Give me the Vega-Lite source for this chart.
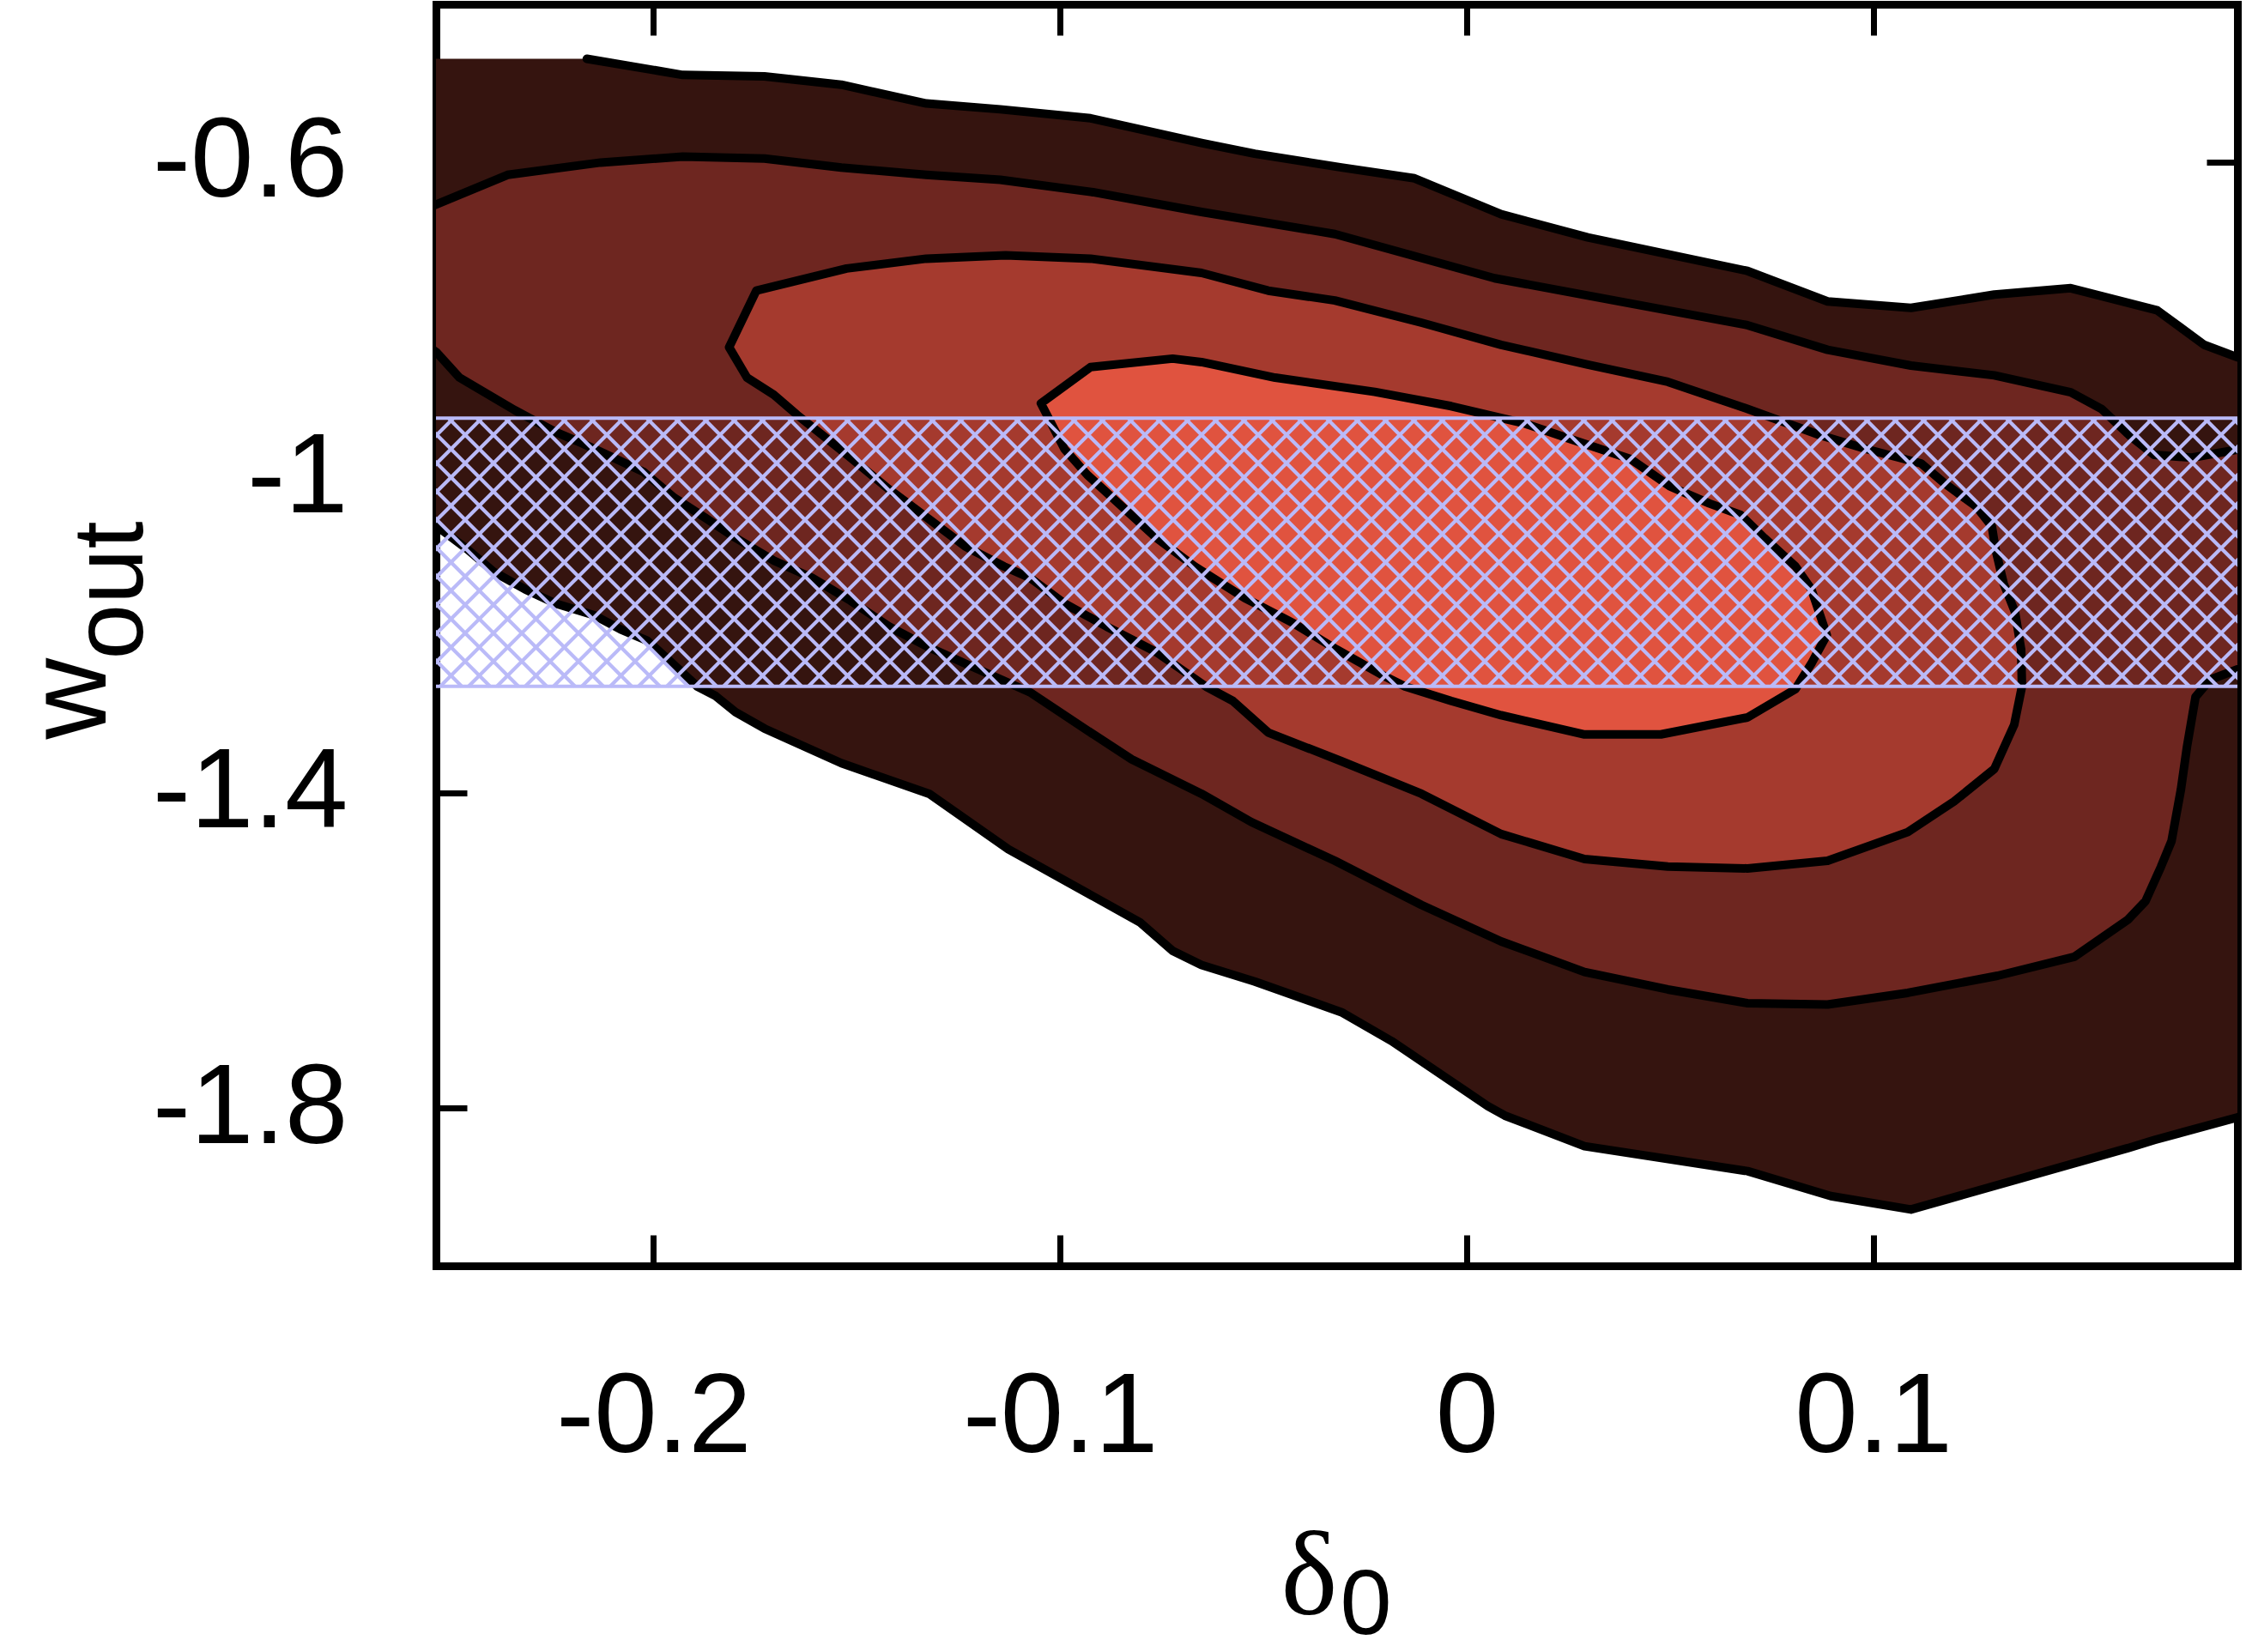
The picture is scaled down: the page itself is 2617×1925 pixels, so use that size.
{
"$schema":"https://vega.github.io/schema/vega-lite/v6.json",
"width":2099,"height":1470,
"autosize":{"type":"none"},
"padding":{"left":508,"top":5,"right":10,"bottom":450},
"background":"white",
"datasets":{
"contours":[
{"l":1,"i":0,"d":-0.262,"w":-0.4691},{"l":1,"i":1,"d":-0.2164,"w":-0.4691},{"l":1,"i":2,"d":-0.1928,"w":-0.4896},{"l":1,"i":3,"d":-0.1727,"w":-0.4914},{"l":1,"i":4,"d":-0.1538,"w":-0.502},{"l":1,"i":5,"d":-0.1329,"w":-0.5258},{"l":1,"i":6,"d":-0.1147,"w":-0.5332},{"l":1,"i":7,"d":-0.0925,"w":-0.5445},{"l":1,"i":8,"d":-0.0652,"w":-0.5758},{"l":1,"i":9,"d":-0.0521,"w":-0.5895},{"l":1,"i":10,"d":-0.0308,"w":-0.607},{"l":1,"i":11,"d":-0.0128,"w":-0.6207},{"l":1,"i":12,"d":0.0085,"w":-0.6663},{"l":1,"i":13,"d":0.0298,"w":-0.6957},{"l":1,"i":14,"d":0.0691,"w":-0.7382},{"l":1,"i":15,"d":0.0888,"w":-0.7769},{"l":1,"i":16,"d":0.1093,"w":-0.7851},{"l":1,"i":17,"d":0.1298,"w":-0.7682},{"l":1,"i":18,"d":0.1486,"w":-0.7601},{"l":1,"i":19,"d":0.1699,"w":-0.7882},{"l":1,"i":20,"d":0.1814,"w":-0.8319},{"l":1,"i":21,"d":0.1896,"w":-0.8476},{"l":1,"i":22,"d":0.199,"w":-0.864},{"l":1,"i":23,"d":0.199,"w":-1.8},{"l":1,"i":24,"d":0.1896,"w":-1.8117},{"l":1,"i":25,"d":0.1691,"w":-1.8405},{"l":1,"i":26,"d":0.1626,"w":-1.8508},{"l":1,"i":27,"d":0.1093,"w":-1.9286},{"l":1,"i":28,"d":0.0896,"w":-1.9116},{"l":1,"i":29,"d":0.0691,"w":-1.8799},{"l":1,"i":30,"d":0.029,"w":-1.8483},{"l":1,"i":31,"d":0.0094,"w":-1.8095},{"l":1,"i":32,"d":0.0052,"w":-1.7973},{"l":1,"i":33,"d":-0.0185,"w":-1.7148},{"l":1,"i":34,"d":-0.0308,"w":-1.6783},{"l":1,"i":35,"d":-0.0521,"w":-1.6394},{"l":1,"i":36,"d":-0.0652,"w":-1.6185},{"l":1,"i":37,"d":-0.0723,"w":-1.6005},{"l":1,"i":38,"d":-0.0804,"w":-1.5641},{"l":1,"i":39,"d":-0.1127,"w":-1.4717},{"l":1,"i":40,"d":-0.1322,"w":-1.4013},{"l":1,"i":41,"d":-0.1538,"w":-1.3625},{"l":1,"i":42,"d":-0.1727,"w":-1.3186},{"l":1,"i":43,"d":-0.1798,"w":-1.2979},{"l":1,"i":44,"d":-0.1847,"w":-1.2773},{"l":1,"i":45,"d":-0.1892,"w":-1.2653},{"l":1,"i":46,"d":-0.1968,"w":-1.229},{"l":1,"i":47,"d":-0.2015,"w":-1.2073},{"l":1,"i":48,"d":-0.2081,"w":-1.1927},{"l":1,"i":49,"d":-0.2147,"w":-1.1746},{"l":1,"i":50,"d":-0.2241,"w":-1.16},{"l":1,"i":51,"d":-0.2316,"w":-1.142},{"l":1,"i":52,"d":-0.2392,"w":-1.1202},{"l":1,"i":53,"d":-0.2458,"w":-1.0911},{"l":1,"i":54,"d":-0.2533,"w":-1.0621},{"l":1,"i":55,"d":-0.2615,"w":-1.0313},
{"l":2,"i":0,"d":-0.2615,"w":-0.6721},{"l":2,"i":1,"d":-0.2534,"w":-0.6538},{"l":2,"i":2,"d":-0.2359,"w":-0.6164},{"l":2,"i":3,"d":-0.213,"w":-0.6007},{"l":2,"i":4,"d":-0.1928,"w":-0.5932},{"l":2,"i":5,"d":-0.1727,"w":-0.5957},{"l":2,"i":6,"d":-0.1538,"w":-0.607},{"l":2,"i":7,"d":-0.1329,"w":-0.6164},{"l":2,"i":8,"d":-0.1147,"w":-0.6226},{"l":2,"i":9,"d":-0.0919,"w":-0.6383},{"l":2,"i":10,"d":-0.0652,"w":-0.6634},{"l":2,"i":11,"d":-0.0324,"w":-0.6914},{"l":2,"i":12,"d":0.0069,"w":-0.7475},{"l":2,"i":13,"d":0.0298,"w":-0.7694},{"l":2,"i":14,"d":0.0691,"w":-0.807},{"l":2,"i":15,"d":0.0888,"w":-0.8382},{"l":2,"i":16,"d":0.1093,"w":-0.8582},{"l":2,"i":17,"d":0.1298,"w":-0.8706},{"l":2,"i":18,"d":0.1486,"w":-0.892},{"l":2,"i":19,"d":0.1562,"w":-0.9134},{"l":2,"i":20,"d":0.1629,"w":-0.9461},{"l":2,"i":21,"d":0.1691,"w":-0.9714},{"l":2,"i":22,"d":0.1784,"w":-0.975},{"l":2,"i":23,"d":0.1896,"w":-0.9649},{"l":2,"i":24,"d":0.199,"w":-0.962},{"l":2,"i":25,"d":0.199,"w":-1.238},{"l":2,"i":26,"d":0.1896,"w":-1.2435},{"l":2,"i":27,"d":0.1829,"w":-1.2566},{"l":2,"i":28,"d":0.1793,"w":-1.2783},{"l":2,"i":29,"d":0.1772,"w":-1.3415},{"l":2,"i":30,"d":0.1757,"w":-1.3959},{"l":2,"i":31,"d":0.1734,"w":-1.4612},{"l":2,"i":32,"d":0.1708,"w":-1.4938},{"l":2,"i":33,"d":0.167,"w":-1.5374},{"l":2,"i":34,"d":0.1626,"w":-1.5613},{"l":2,"i":35,"d":0.1495,"w":-1.6081},{"l":2,"i":36,"d":0.1306,"w":-1.6321},{"l":2,"i":37,"d":0.1085,"w":-1.6538},{"l":2,"i":38,"d":0.0888,"w":-1.6685},{"l":2,"i":39,"d":0.0691,"w":-1.6669},{"l":2,"i":40,"d":0.0495,"w":-1.6495},{"l":2,"i":41,"d":0.029,"w":-1.6273},{"l":2,"i":42,"d":0.0085,"w":-1.5885},{"l":2,"i":43,"d":-0.0111,"w":-1.5423},{"l":2,"i":44,"d":-0.0324,"w":-1.4863},{"l":2,"i":45,"d":-0.0529,"w":-1.4373},{"l":2,"i":46,"d":-0.0652,"w":-1.4013},{"l":2,"i":47,"d":-0.0824,"w":-1.3576},{"l":2,"i":48,"d":-0.0925,"w":-1.3236},{"l":2,"i":49,"d":-0.1074,"w":-1.2726},{"l":2,"i":50,"d":-0.1138,"w":-1.258},{"l":2,"i":51,"d":-0.1233,"w":-1.2362},{"l":2,"i":52,"d":-0.1327,"w":-1.2145},{"l":2,"i":53,"d":-0.1421,"w":-1.1891},{"l":2,"i":54,"d":-0.1515,"w":-1.1565},{"l":2,"i":55,"d":-0.161,"w":-1.1274},{"l":2,"i":56,"d":-0.1704,"w":-1.1056},{"l":2,"i":57,"d":-0.1798,"w":-1.0767},{"l":2,"i":58,"d":-0.1873,"w":-1.0512},{"l":2,"i":59,"d":-0.1949,"w":-1.0258},{"l":2,"i":60,"d":-0.2024,"w":-0.9932},{"l":2,"i":61,"d":-0.2099,"w":-0.975},{"l":2,"i":62,"d":-0.2175,"w":-0.9569},{"l":2,"i":63,"d":-0.2241,"w":-0.9424},{"l":2,"i":64,"d":-0.2341,"w":-0.9148},{"l":2,"i":65,"d":-0.2477,"w":-0.8735},{"l":2,"i":66,"d":-0.2534,"w":-0.8412},{"l":2,"i":67,"d":-0.2615,"w":-0.8136},
{"l":3,"i":0,"d":-0.1814,"w":-0.835},{"l":3,"i":1,"d":-0.1747,"w":-0.7632},{"l":3,"i":2,"d":-0.1525,"w":-0.7351},{"l":3,"i":3,"d":-0.1329,"w":-0.7226},{"l":3,"i":4,"d":-0.1134,"w":-0.7183},{"l":3,"i":5,"d":-0.0925,"w":-0.7226},{"l":3,"i":6,"d":-0.0652,"w":-0.7407},{"l":3,"i":7,"d":-0.0488,"w":-0.7632},{"l":3,"i":8,"d":-0.0324,"w":-0.7757},{"l":3,"i":9,"d":-0.0111,"w":-0.8038},{"l":3,"i":10,"d":0.0085,"w":-0.8319},{"l":3,"i":11,"d":0.0298,"w":-0.8569},{"l":3,"i":12,"d":0.0495,"w":-0.8788},{"l":3,"i":13,"d":0.0691,"w":-0.9132},{"l":3,"i":14,"d":0.0867,"w":-0.9461},{"l":3,"i":15,"d":0.0983,"w":-0.9641},{"l":3,"i":16,"d":0.1118,"w":-0.9823},{"l":3,"i":17,"d":0.1176,"w":-1.0077},{"l":3,"i":18,"d":0.1253,"w":-1.0367},{"l":3,"i":19,"d":0.1292,"w":-1.0621},{"l":3,"i":20,"d":0.1301,"w":-1.0911},{"l":3,"i":21,"d":0.1321,"w":-1.1347},{"l":3,"i":22,"d":0.1349,"w":-1.1709},{"l":3,"i":23,"d":0.1364,"w":-1.2182},{"l":3,"i":24,"d":0.1366,"w":-1.2653},{"l":3,"i":25,"d":0.1347,"w":-1.3138},{"l":3,"i":26,"d":0.1298,"w":-1.3698},{"l":3,"i":27,"d":0.1199,"w":-1.411},{"l":3,"i":28,"d":0.1085,"w":-1.4499},{"l":3,"i":29,"d":0.0888,"w":-1.4863},{"l":3,"i":30,"d":0.0691,"w":-1.496},{"l":3,"i":31,"d":0.0495,"w":-1.4936},{"l":3,"i":32,"d":0.029,"w":-1.484},{"l":3,"i":33,"d":0.0085,"w":-1.4524},{"l":3,"i":34,"d":-0.0111,"w":-1.4013},{"l":3,"i":35,"d":-0.0308,"w":-1.36},{"l":3,"i":36,"d":-0.0488,"w":-1.3236},{"l":3,"i":37,"d":-0.0575,"w":-1.2835},{"l":3,"i":38,"d":-0.0641,"w":-1.2653},{"l":3,"i":39,"d":-0.0763,"w":-1.2217},{"l":3,"i":40,"d":-0.0886,"w":-1.1891},{"l":3,"i":41,"d":-0.0989,"w":-1.16},{"l":3,"i":42,"d":-0.1074,"w":-1.1274},{"l":3,"i":43,"d":-0.1138,"w":-1.1129},{"l":3,"i":44,"d":-0.1233,"w":-1.0876},{"l":3,"i":45,"d":-0.1327,"w":-1.0512},{"l":3,"i":46,"d":-0.1421,"w":-1.015},{"l":3,"i":47,"d":-0.1515,"w":-0.975},{"l":3,"i":48,"d":-0.1647,"w":-0.9206},{"l":3,"i":49,"d":-0.1704,"w":-0.8952},{"l":3,"i":50,"d":-0.177,"w":-0.8735},
{"l":4,"i":0,"d":-0.1047,"w":-0.9061},{"l":4,"i":1,"d":-0.0925,"w":-0.8601},{"l":4,"i":2,"d":-0.0723,"w":-0.8494},{"l":4,"i":3,"d":-0.0652,"w":-0.8538},{"l":4,"i":4,"d":-0.0471,"w":-0.8735},{"l":4,"i":5,"d":-0.0226,"w":-0.8916},{"l":4,"i":6,"d":-0.0038,"w":-0.9097},{"l":4,"i":7,"d":0.0142,"w":-0.9315},{"l":4,"i":8,"d":0.0245,"w":-0.9496},{"l":4,"i":9,"d":0.0404,"w":-0.9769},{"l":4,"i":10,"d":0.05,"w":-1.0114},{"l":4,"i":11,"d":0.0597,"w":-1.0331},{"l":4,"i":12,"d":0.0674,"w":-1.0476},{"l":4,"i":13,"d":0.0732,"w":-1.0767},{"l":4,"i":14,"d":0.0809,"w":-1.1129},{"l":4,"i":15,"d":0.0848,"w":-1.142},{"l":4,"i":16,"d":0.0867,"w":-1.1709},{"l":4,"i":17,"d":0.0886,"w":-1.2},{"l":4,"i":18,"d":0.0848,"w":-1.2362},{"l":4,"i":19,"d":0.0809,"w":-1.2685},{"l":4,"i":20,"d":0.0691,"w":-1.3045},{"l":4,"i":21,"d":0.0478,"w":-1.326},{"l":4,"i":22,"d":0.029,"w":-1.326},{"l":4,"i":23,"d":0.0085,"w":-1.3017},{"l":4,"i":24,"d":-0.0038,"w":-1.2835},{"l":4,"i":25,"d":-0.0151,"w":-1.2653},{"l":4,"i":26,"d":-0.0207,"w":-1.2508},{"l":4,"i":27,"d":-0.032,"w":-1.2182},{"l":4,"i":28,"d":-0.0424,"w":-1.1855},{"l":4,"i":29,"d":-0.0546,"w":-1.1529},{"l":4,"i":30,"d":-0.0669,"w":-1.1129},{"l":4,"i":31,"d":-0.0763,"w":-1.0767},{"l":4,"i":32,"d":-0.0848,"w":-1.0367},{"l":4,"i":33,"d":-0.0933,"w":-0.9968},{"l":4,"i":34,"d":-0.0989,"w":-0.9641}
],
"hatch":[{"k":-9},{"k":-8},{"k":-7},{"k":-6},{"k":-5},{"k":-4},{"k":-3},{"k":-2},{"k":-1},{"k":0},{"k":1},{"k":2},{"k":3},{"k":4},{"k":5},{"k":6},{"k":7},{"k":8},{"k":9},{"k":10},{"k":11},{"k":12},{"k":13},{"k":14},{"k":15},{"k":16},{"k":17},{"k":18},{"k":19},{"k":20},{"k":21},{"k":22},{"k":23},{"k":24},{"k":25},{"k":26},{"k":27},{"k":28},{"k":29},{"k":30},{"k":31},{"k":32},{"k":33},{"k":34},{"k":35},{"k":36},{"k":37},{"k":38},{"k":39},{"k":40},{"k":41},{"k":42},{"k":43},{"k":44},{"k":45},{"k":46},{"k":47},{"k":48},{"k":49},{"k":50},{"k":51},{"k":52},{"k":53},{"k":54},{"k":55},{"k":56},{"k":57},{"k":58},{"k":59},{"k":60},{"k":61},{"k":62},{"k":63},{"k":64},{"k":65},{"k":66},{"k":67},{"k":68},{"k":69},{"k":70},{"k":71},{"k":72},{"k":73}],
"band":[{"lo":-1.265,"hi":-0.925}]
},
"config":{
"view":{"stroke":null},
"axis":{"domainColor":"black","domainWidth":9,"domainCap":"square","tickColor":"black","tickWidth":7,"tickSize":-36,"grid":false,"labelFont":"Liberation Sans","labelFontSize":132,"labelColor":"black","labelLimit":0,"labelOverlap":false,"labelFlush":false,"labelBound":false,"titleFont":"Liberation Sans","titleColor":"black","titleFontWeight":"normal","titleLimit":0,"zindex":1}
},
"resolve":{"scale":{"x":"independent","y":"independent"},"axis":{"x":"independent","y":"independent"}},
"layer":[
{"data":{"name":"contours"},"transform":[{"filter":"datum.l == 1"}],
"mark":{"type":"line","interpolate":"linear-closed","fill":"#35140f","strokeWidth":0,"clip":true},
"encoding":{
"x":{"field":"d","type":"quantitative","scale":{"domain":[-0.2535,0.1896],"nice":false,"zero":false},"axis":{"orient":"bottom","values":[-0.2,-0.1,0,0.1],"labelExpr":"'' + datum.value","labelPadding":148,"title":"δ","titleFont":"Liberation Serif","titleFontSize":140,"titleX":984,"titleY":405,"titleAlign":"left","titleBaseline":"alphabetic","titleAngle":0}},
"y":{"field":"w","type":"quantitative","scale":{"domain":[-2,-0.4],"nice":false,"zero":false},"axis":{"orient":"left","values":[-0.6,-1,-1.4,-1.8],"labelExpr":"'' + datum.value","labelPadding":139,"title":"w","titleFontSize":131,"titleX":-386,"titleY":856,"titleAngle":-90,"titleAlign":"left","titleBaseline":"alphabetic"}},
"order":{"field":"i","type":"quantitative"}}},
{"data":{"name":"contours"},"transform":[{"filter":"datum.l == 2"}],
"mark":{"type":"line","interpolate":"linear-closed","fill":"#6e2620","strokeWidth":0,"clip":true},
"encoding":{
"x":{"field":"d","type":"quantitative","scale":{"domain":[-0.2535,0.1896],"nice":false,"zero":false},"axis":null},
"y":{"field":"w","type":"quantitative","scale":{"domain":[-2,-0.4],"nice":false,"zero":false},"axis":null},
"order":{"field":"i","type":"quantitative"}}},
{"data":{"name":"contours"},"transform":[{"filter":"datum.l == 3"}],
"mark":{"type":"line","interpolate":"linear-closed","fill":"#a53a2e","strokeWidth":0,"clip":true},
"encoding":{
"x":{"field":"d","type":"quantitative","scale":{"domain":[-0.2535,0.1896],"nice":false,"zero":false},"axis":null},
"y":{"field":"w","type":"quantitative","scale":{"domain":[-2,-0.4],"nice":false,"zero":false},"axis":null},
"order":{"field":"i","type":"quantitative"}}},
{"data":{"name":"contours"},"transform":[{"filter":"datum.l == 4"}],
"mark":{"type":"line","interpolate":"linear-closed","fill":"#e0533f","strokeWidth":0,"clip":true},
"encoding":{
"x":{"field":"d","type":"quantitative","scale":{"domain":[-0.2535,0.1896],"nice":false,"zero":false},"axis":null},
"y":{"field":"w","type":"quantitative","scale":{"domain":[-2,-0.4],"nice":false,"zero":false},"axis":null},
"order":{"field":"i","type":"quantitative"}}},
{"data":{"name":"contours"},"transform":[{"filter":"(datum.l == 1 && datum.i > 0) || datum.l == 2"}],
"mark":{"type":"line","interpolate":"linear","color":"black","strokeWidth":10,"strokeJoin":"round","strokeCap":"round","clip":true},
"encoding":{
"x":{"field":"d","type":"quantitative","scale":{"domain":[-0.2535,0.1896],"nice":false,"zero":false},"axis":{"orient":"top","values":[-0.2,-0.1,0,0.1],"labels":false,"title":"0","titleFontSize":108,"titleX":1053,"titleY":1898,"titleAlign":"left","titleBaseline":"alphabetic","titleAngle":0}},
"y":{"field":"w","type":"quantitative","scale":{"domain":[-2,-0.4],"nice":false,"zero":false},"axis":{"orient":"right","values":[-0.6,-1,-1.4,-1.8],"labels":false,"title":"out","titleFontSize":116,"titleX":-2442,"titleY":763,"titleAngle":-90,"titleAlign":"left","titleBaseline":"alphabetic"}},
"detail":{"field":"l","type":"nominal"},
"order":{"field":"i","type":"quantitative"}}},
{"data":{"name":"contours"},"transform":[{"filter":"datum.l >= 3"}],
"mark":{"type":"line","interpolate":"linear-closed","color":"black","strokeWidth":10,"strokeJoin":"round","clip":true},
"encoding":{
"x":{"field":"d","type":"quantitative","scale":{"domain":[-0.2535,0.1896],"nice":false,"zero":false},"axis":null},
"y":{"field":"w","type":"quantitative","scale":{"domain":[-2,-0.4],"nice":false,"zero":false},"axis":null},
"detail":{"field":"l","type":"nominal"},
"order":{"field":"i","type":"quantitative"}}},
{"data":{"name":"hatch"},
"mark":{"type":"rule","color":"#babaf8","strokeWidth":4.2,"x2Offset":312.4,"clip":true},
"encoding":{
"x":{"field":"k","type":"quantitative","scale":{"domain":[0.5576,64.1636],"nice":false,"zero":false},"axis":null},
"x2":{"field":"k"},
"y":{"datum":-0.925,"type":"quantitative","scale":{"domain":[-2,-0.4],"nice":false,"zero":false},"axis":null},
"y2":{"datum":-1.265}}},
{"data":{"name":"hatch"},
"mark":{"type":"rule","color":"#babaf8","strokeWidth":4.2,"xOffset":38.8,"x2Offset":-273.6,"clip":true},
"encoding":{
"x":{"field":"k","type":"quantitative","scale":{"domain":[0.5576,64.1636],"nice":false,"zero":false},"axis":null},
"x2":{"field":"k"},
"y":{"datum":-0.925,"type":"quantitative","scale":{"domain":[-2,-0.4],"nice":false,"zero":false},"axis":null},
"y2":{"datum":-1.265}}},
{"data":{"name":"band"},
"mark":{"type":"rule","color":"#babaf8","strokeWidth":4},
"encoding":{"y":{"field":"hi","type":"quantitative","scale":{"domain":[-2,-0.4],"nice":false,"zero":false},"axis":null}}},
{"data":{"name":"band"},
"mark":{"type":"rule","color":"#babaf8","strokeWidth":4},
"encoding":{"y":{"field":"lo","type":"quantitative","scale":{"domain":[-2,-0.4],"nice":false,"zero":false},"axis":null}}}
]
}
